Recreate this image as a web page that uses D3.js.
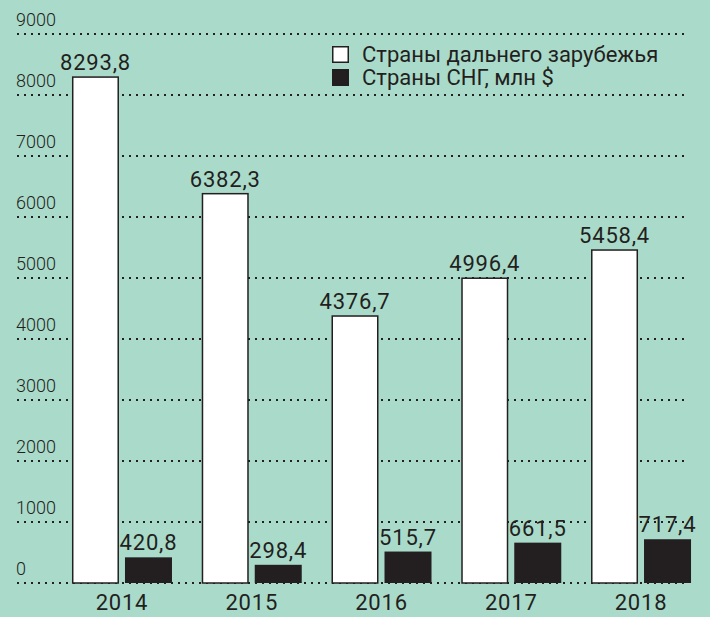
<!DOCTYPE html>
<html>
<head>
    <meta charset="utf-8">
    <title>Экспорт</title>
    <style>
        body { margin: 0; background: #aadbca; }
        svg { display: block; font-family: Roboto, "Noto Sans", sans-serif; }
    </style>
    <script src="https://cdn.jsdelivr.net/npm/d3@7"></script>
</head>
<body>
<div id="chart"></div>
<script>
    // data
    const years = ["2014", "2015", "2016", "2017", "2018"]
    const farAbroad = [8293.8, 6382.3, 4376.7, 4996.4, 5458.4]
    const cis = [420.8, 298.4, 515.7, 661.5, 717.4]
    const yTicks = [0, 1000, 2000, 3000, 4000, 5000, 6000, 7000, 8000, 9000]
    const seriesNames = ["Страны дальнего зарубежья", "Страны СНГ, млн $"]

    const W = 710, H = 617
    const ink = "#231f20"

    const svg = d3.select("#chart").append("svg")
        .attr("width", W)
        .attr("height", H)

    svg.append("rect").attr("width", W).attr("height", H).attr("fill", "#aadbca")

    const x = d3.scaleBand()
        .domain(years)
        .range([57.1, 705.9])
        .paddingInner(0.2293)
        .paddingOuter(0.1146)

    const keys = ["far", "cis"]
    const xs = d3.scaleBand()
        .domain(keys)
        .range([0, x.bandwidth()])
        .paddingInner(0.1132)

    const y = d3.scaleLinear()
        .domain([0, 9000])
        .range([583, 34])

    const rows = years.map((yr, i) => ({ year: yr, far: farAbroad[i], cis: cis[i] }))
    const fmt = v => d3.format(".1f")(v).replace(".", ",")

    // tick labels
    svg.append("g")
        .selectAll("text")
        .data(yTicks)
        .join("text")
        .attr("x", 16)
        .attr("y", d => y(d) - 8)
        .attr("font-size", 18)
        .attr("font-weight", 300)
        .attr("fill", ink)
        .text(d => d)

    // value labels
    const groups = svg.append("g")
        .selectAll("g")
        .data(rows)
        .join("g")
        .attr("transform", d => `translate(${x(d.year)},0)`)

    groups.selectAll("text.val")
        .data(d => keys.map(k => ({ key: k, value: d[k] })))
        .join("text")
        .attr("class", "val")
        .attr("x", d => xs(d.key) + xs.bandwidth() / 2)
        .attr("y", d => y(d.value) - 7)
        .attr("text-anchor", "middle")
        .attr("font-size", 22)
        .attr("letter-spacing", 0.8)
        .attr("fill", ink)
        .text(d => fmt(d.value))

    // dotted grid
    svg.append("g")
        .selectAll("line")
        .data(yTicks)
        .join("line")
        .attr("x1", 17)
        .attr("x2", 686)
        .attr("y1", d => y(d))
        .attr("y2", d => y(d))
        .attr("stroke", ink)
        .attr("stroke-width", 2)
        .attr("stroke-dasharray", "2,5")

    // bars
    const bars = svg.append("g")
        .selectAll("g")
        .data(rows)
        .join("g")
        .attr("transform", d => `translate(${x(d.year)},0)`)

    bars.selectAll("rect")
        .data(d => keys.map(k => ({ key: k, value: d[k] })))
        .join("rect")
        .attr("x", d => xs(d.key) + (d.key === "far" ? 0.75 : 0))
        .attr("y", d => y(d.value))
        .attr("width", d => xs.bandwidth() - (d.key === "far" ? 1.5 : 0))
        .attr("height", d => y(0) - y(d.value))
        .attr("fill", d => d.key === "far" ? "#ffffff" : ink)
        .attr("stroke", d => d.key === "far" ? ink : "none")
        .attr("stroke-width", 1.5)

    // year labels
    svg.append("g")
        .selectAll("text")
        .data(years)
        .join("text")
        .attr("x", d => x(d) + x.bandwidth() / 2)
        .attr("y", 610)
        .attr("text-anchor", "middle")
        .attr("font-size", 22)
        .attr("letter-spacing", 0.8)
        .attr("fill", ink)
        .text(d => d)

    // legend
    const legend = svg.append("g").attr("transform", "translate(332,46)")
    const li = legend.selectAll("g")
        .data(seriesNames)
        .join("g")
        .attr("transform", (d, i) => `translate(0,${i * 23})`)
    li.append("rect")
        .attr("x", 0.75)
        .attr("y", 0.75)
        .attr("width", 15.5)
        .attr("height", 15.5)
        .attr("fill", (d, i) => i === 0 ? "#ffffff" : ink)
        .attr("stroke", ink)
        .attr("stroke-width", 1.5)
    li.append("text")
        .attr("x", 30)
        .attr("y", 16)
        .attr("font-size", 22)
        .attr("fill", ink)
        .text(d => d)
</script>
</body>
</html>
